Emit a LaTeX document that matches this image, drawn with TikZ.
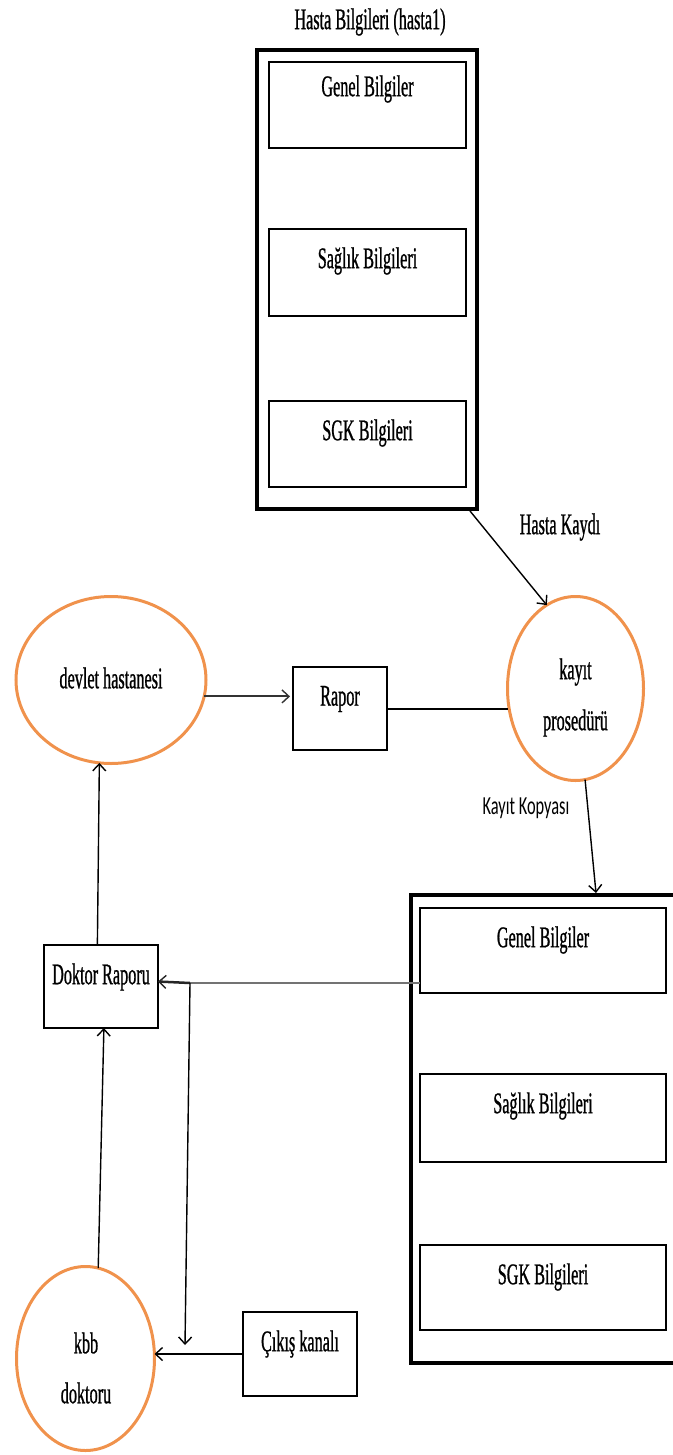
\documentclass[tikz,border=0pt]{standalone}
\usepackage{fontspec}
\setmainfont{Liberation Serif}[FakeStretch=0.54,FakeBold=0.8]
\newfontfamily\notefont{Carlito}[FakeStretch=0.63]
\usetikzlibrary{arrows.meta,shapes.geometric}
\definecolor{procorange}{RGB}{240,146,76}

\begin{document}
\begin{tikzpicture}[x=1pt,y=-1pt,
  every node/.style={font=\fontsize{30}{36}\selectfont, inner sep=0pt, outer sep=0pt},
  store/.style={draw, line width=4pt, rectangle},
  record/.style={draw, line width=2pt, rectangle},
  entity/.style={draw, line width=1.8pt, rectangle},
  process/.style={draw=procorange, line width=3pt, ellipse},
  tip/.style={-{Straight Barb[length=7pt,width=13pt,line width=1.4pt]}},
  flow/.style={line width=1.4pt, tip},
  inbox/.style={label={[anchor=center,yshift=-32pt]north:#1}},
  note/.style={font=\notefont\fontsize{26}{30}\selectfont}
]
\useasboundingbox (0,0) rectangle (672,1455);

% patient record store (top)
\node[store, minimum width=220pt, minimum height=459pt] (topdb) at (367,279.5) {};
\node (toptitle) at (370,22) {Hasta Bilgileri (hasta1)};
\node[record, minimum width=197pt, minimum height=86pt, label={[anchor=center,yshift=-27pt]north:Genel Bilgiler}] (tgenel) at (367.5,105) {};
\node[record, minimum width=197pt, minimum height=87pt, inbox=Sağlık Bilgileri] (tsaglik) at (367.5,272.5) {};
\node[record, minimum width=197pt, minimum height=86pt, inbox=SGK Bilgileri] (tsgk) at (367.5,444) {};

% copy store (bottom right, runs past the page edge)
\node[store, minimum width=289pt, minimum height=468pt] (botdb) at (555.5,1129) {};
\node[record, minimum width=246pt, minimum height=85pt, inbox=Genel Bilgiler] (bgenel) at (543,950.5) {};
\node[record, minimum width=246pt, minimum height=88pt, inbox=Sağlık Bilgileri] (bsaglik) at (543,1118) {};
\node[record, minimum width=246pt, minimum height=85pt, inbox=SGK Bilgileri] (bsgk) at (543,1287.5) {};

% processes
\node[process, minimum width=190pt, minimum height=167pt] (devlet) at (111,680) {};
\node (devlettxt) at (111,678) {devlet hastanesi};
\node[process, minimum width=136pt, minimum height=184pt] (kayit) at (575.5,688.5) {};
\node (kayittxt1) at (575.5,672) {kayıt};
\node (kayittxt2) at (575.5,723) {prosedürü};
\node[process, minimum width=138pt, minimum height=184pt] (kbb) at (85.5,1358.5) {};
\node (kbbtxt1) at (86,1343) {kbb};
\node (kbbtxt2) at (86,1393) {doktoru};

% entities
\node[entity, minimum width=94pt, minimum height=83pt, inbox=Rapor] (rapor) at (340,708.5) {};
\node[entity, minimum width=114pt, minimum height=83pt, inbox=Doktor Raporu] (doktor) at (101,986.5) {};
\node[entity, minimum width=114pt, minimum height=84pt, inbox=Çıkış kanalı] (cikis) at (300,1354) {};

% flow labels
\node (hklabel) at (560,527) {Hasta Kaydı};
\node[note] (kklabel) at (526,808) {Kayıt Kopyası};

% connector ends
\coordinate (hkstart) at (470,511);
\coordinate (kkend) at (596,893);
\coordinate (tap) at (190,983);
\coordinate (drop) at (185,1345);

% connectors
\draw[flow] (hkstart) -- (kayit.109);
\draw[flow] (kayit.-84) -- (kkend);
\draw[line width=2pt, black!80, tip, shorten >=3pt] (devlet.-10) -- (devlet.-10 -| rapor.west);
\draw[line width=2pt] (rapor.east) -- (rapor.east -| kayit.west);
\draw[line width=2.5pt, black!55] (bgenel.west |- tap) -- (tap);
\draw[line width=2.5pt, black!85, tip] (tap) -- (doktor.5.5);
\draw[flow] (tap) -- (drop);
\draw[line width=2pt, tip] (cikis.west) -- (cikis.west -| kbb.east);
\draw[flow] (kbb.82) -- (doktor.-86);
\draw[flow] (doktor.95) -- (devlet.-98.5);
\end{tikzpicture}
\end{document}
